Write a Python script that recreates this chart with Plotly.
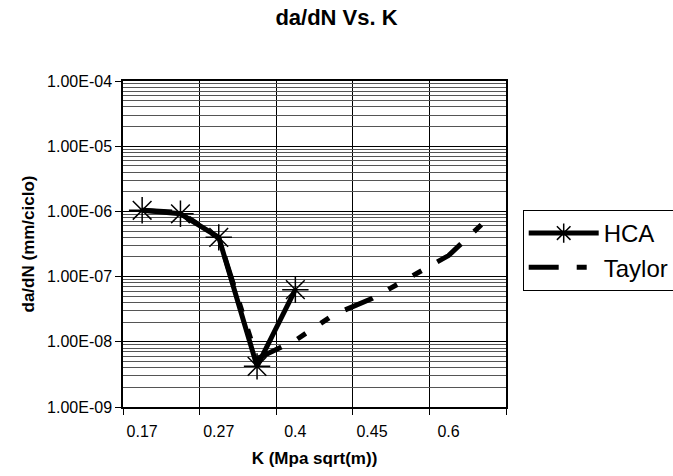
import plotly.graph_objects as go

# ---- data ----
k_index = list(range(1, 11))                    # category positions along the K axis
k_tick_labels = ["0.17", "0.27", "0.4", "0.45", "0.6"]   # labels shown on every other category
k_label_index = [1, 3, 5, 7, 9]

hca_index = [1, 2, 3, 4, 5]
hca_dadn = [1.04e-6, 9.2e-7, 4.0e-7, 4.2e-9, 6.3e-8]

taylor_index = k_index
taylor_dadn = [1.04e-6, 9.6e-7, 3.9e-7, 5.5e-9, 1.05e-8, 2.6e-8, 4.6e-8, 1.0e-7, 2.1e-7, 7.5e-7]

y_decades = [1e-9, 1e-8, 1e-7, 1e-6, 1e-5, 1e-4]
y_tick_labels = ["1.00E-09", "1.00E-08", "1.00E-07", "1.00E-06", "1.00E-05", "1.00E-04"]

FONT = "Liberation Sans, Arial, sans-serif"

minor_y = [m * d for d in y_decades[:-1] for m in range(2, 10)]
boundaries = [i + 0.5 for i in range(0, 11, 2)]

fig = go.Figure()
fig.add_trace(go.Scatter(
    x=hca_index, y=hca_dadn, name="HCA", mode="lines+markers",
    line=dict(color="black", width=5),
    marker=dict(symbol="asterisk-open", size=22, color="black",
                line=dict(color="black", width=1.5)),
))
fig.add_trace(go.Scatter(
    x=taylor_index, y=taylor_dadn, name="Taylor", mode="lines",
    line=dict(color="black", width=5, dash="30px,18px,10px,18px,10px,18px"),
))

fig.update_layout(
    width=673, height=476,
    margin=dict(l=123, r=167, t=81, b=69, autoexpand=False),
    paper_bgcolor="white", plot_bgcolor="white",
    font=dict(family=FONT, color="black", size=16),
    title=dict(text="<b>da/dN Vs. K</b>", x=0.5, xanchor="center",
               y=1 - 17 / 476, yanchor="middle", yref="container",
               font=dict(size=22, family=FONT, color="black")),
    legend=dict(x=(522.7 - 123) / 383, xanchor="left",
                y=(407 - 210) / 326, yanchor="top",
                bgcolor="white", bordercolor="black", borderwidth=1,
                font=dict(size=24, family=FONT, color="black"),
                itemwidth=70, tracegroupgap=0),
)

fig.update_xaxes(
    range=[0.5, 10.5], tickmode="array", tickvals=k_label_index, ticktext=k_tick_labels,
    ticks="outside", ticklen=9, tickcolor="rgba(0,0,0,0)", showgrid=False, zeroline=False,
    showline=True, linecolor="black", linewidth=1.5, mirror=True,
    tickfont=dict(size=16, family=FONT, color="black"),
    title=dict(text="<b>K (Mpa sqrt(m))</b>", font=dict(size=17, family=FONT, color="black"),
               standoff=13),
    minor=dict(tickmode="array", tickvals=boundaries, showgrid=True, gridcolor="black",
               gridwidth=1, ticks="outside", ticklen=6, tickcolor="black", tickwidth=1),
)
fig.update_yaxes(
    type="log", range=[-9, -4], tickmode="array", tickvals=y_decades, ticktext=y_tick_labels,
    ticks="outside", ticklen=6, tickcolor="black", tickwidth=1,
    showgrid=True, gridcolor="black", gridwidth=1, zeroline=False,
    showline=True, linecolor="black", linewidth=1.5, mirror=True,
    tickfont=dict(size=16, family=FONT, color="black"),
    title=dict(text="<b>da/dN (mm/ciclo)</b>", font=dict(size=17, family=FONT, color="black"),
               standoff=8),
    minor=dict(tickmode="array", tickvals=minor_y, showgrid=True, gridcolor="#555555",
               gridwidth=0.8, ticks=""),
)

fig.write_html("out.html")
